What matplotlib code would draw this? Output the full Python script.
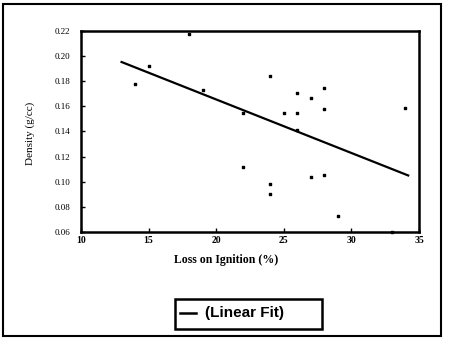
import matplotlib
matplotlib.use("Agg")
import matplotlib.pyplot as plt
import numpy as np
from matplotlib.lines import Line2D
from matplotlib.patches import Rectangle

# loss on ignition (%) vs bulk density (g/cc)
loi = [14, 15, 18, 19, 22, 22, 24, 24, 24, 25, 26, 26, 26, 27, 27, 28, 28, 28, 29, 33, 34]
density = [0.178, 0.192, 0.218, 0.173, 0.155, 0.112, 0.184, 0.098, 0.090, 0.155,
           0.171, 0.155, 0.141, 0.167, 0.104, 0.175, 0.158, 0.105, 0.073, 0.060, 0.159]

# linear fit: density = fit_intercept + fit_slope * loi
fit_intercept = 0.2507
fit_slope = -0.00426
fit_range = [13.0, 34.2]

xticks = [10, 15, 20, 25, 30, 35]
yticks = [0.06, 0.08, 0.10, 0.12, 0.14, 0.16, 0.18, 0.20, 0.22]

fig = plt.figure(figsize=(4.49, 3.38), dpi=100)
ax = fig.add_axes([0.1804, 0.3136, 0.7528, 0.5947])

ax.scatter(loi, density, marker='s', s=2.5, color='black', zorder=3, clip_on=False)
xf = np.array(fit_range)
ax.plot(xf, fit_intercept + fit_slope * xf, color='black', lw=1.6)

ax.set_xlim(10, 35)
ax.set_ylim(0.06, 0.22)
ax.set_xticks(xticks)
ax.set_yticks(yticks)
ax.set_xticklabels([str(t) for t in xticks], family='Liberation Serif', fontsize=7, weight='bold')
ax.set_yticklabels([f'{t:.2f}' for t in yticks], family='Liberation Serif', fontsize=6.5)
ax.tick_params(direction='in', length=3, width=1)
ax.tick_params(axis='y', pad=8)
ax.tick_params(axis='x', pad=3)
for s in ax.spines.values():
    s.set_linewidth(1.8)

ax.set_xlabel('Loss on Ignition (%)', family='Liberation Serif', fontsize=8.5, weight='bold')
ax.xaxis.set_label_coords(0.43, -0.11)
ax.set_ylabel('Density (g/cc)', family='Liberation Serif', fontsize=8)
ax.yaxis.set_label_coords(-0.135, 0.49)

# legend box below the plot
lx0, ly0, lx1, ly1 = 175 / 449, 1 - 329 / 338, 322 / 449, 1 - 299 / 338
fig.patches.append(Rectangle((lx0, ly0), lx1 - lx0, ly1 - ly0, transform=fig.transFigure,
                             fill=False, lw=1.8, edgecolor='black'))
fig.lines.append(Line2D([180 / 449, 196 / 449], [1 - 313 / 338] * 2, transform=fig.transFigure,
                        color='black', lw=1.8))
fig.text(205 / 449, 1 - 313 / 338, '(Linear Fit)', family='Liberation Sans', fontsize=11,
         weight='bold', va='center', ha='left')

# outer frame
fig.patches.append(Rectangle((3 / 449, 2 / 338), 438 / 449, 332 / 338, transform=fig.transFigure,
                             fill=False, lw=1.5, edgecolor='black'))

fig.savefig('out.png', dpi=100)
